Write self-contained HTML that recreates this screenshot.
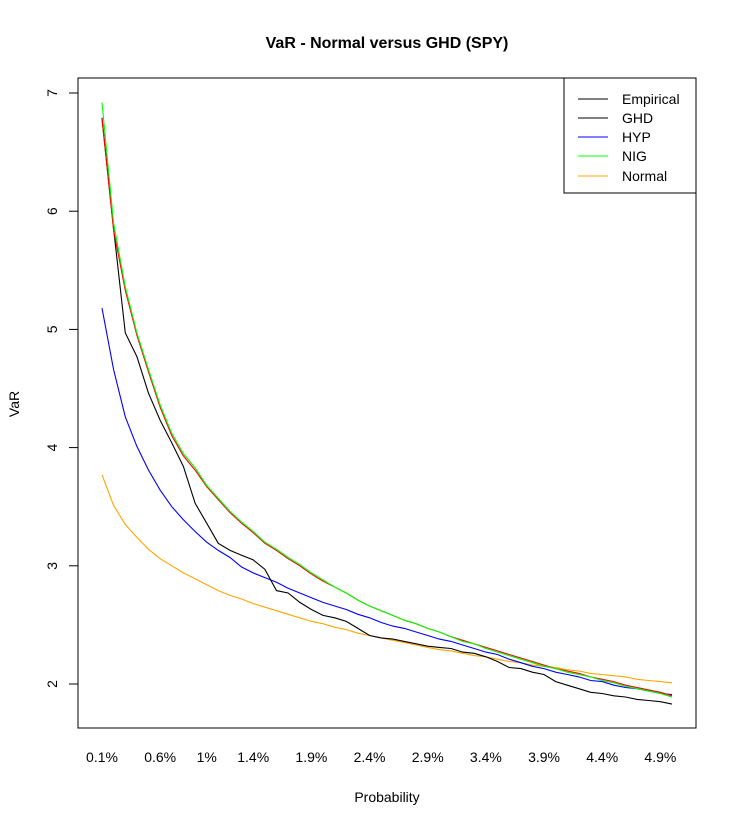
<!DOCTYPE html>
<html><head><meta charset="utf-8"><style>
body{margin:0;background:#fff}
svg text{font-family:"Liberation Sans",Arial,sans-serif;fill:#000}
</style></head><body>
<svg width="736" height="826" viewBox="0 0 736 826" xmlns="http://www.w3.org/2000/svg">
<rect width="736" height="826" fill="#fff"/>
<text x="387" y="48" text-anchor="middle" font-size="16" font-weight="bold">VaR - Normal versus GHD (SPY)</text>
<g id="plot"></g>
<rect x="78" y="78" width="618" height="650" fill="none" stroke="#000"/>
<g id="axes"></g>
<text x="387" y="802" text-anchor="middle" font-size="14">Probability</text>
<text transform="translate(19,404) rotate(-90)" text-anchor="middle" font-size="14">VaR</text>
<g>
<rect x="564" y="78" width="132" height="115" fill="#fff" stroke="#000"/>
<g><line x1="578" y1="99" x2="608" y2="99" stroke="#000"/><text x="622" y="104" font-size="14">Empirical</text></g>
<g><line x1="578" y1="118" x2="608" y2="118" stroke="#000"/><text x="622" y="123" font-size="14">GHD</text></g>
<g><line x1="578" y1="137" x2="608" y2="137" stroke="#0000ff"/><text x="622" y="142" font-size="14">HYP</text></g>
<g><line x1="578" y1="156" x2="608" y2="156" stroke="#00ff00"/><text x="622" y="161" font-size="14">NIG</text></g>
<g><line x1="578" y1="176" x2="608" y2="176" stroke="#ffa500"/><text x="622" y="181" font-size="14">Normal</text></g>
</g>
</svg>
<script>
const xLabels = ["0.1%","0.6%","1%","1.4%","1.9%","2.4%","2.9%","3.4%","3.9%","4.4%","4.9%"];
const xLabelIdx = [0,5,9,13,18,23,28,33,38,43,48];
const yTicks = [2,3,4,5,6,7];
const empirical = [6.79,5.85,4.97,4.77,4.46,4.23,4.04,3.84,3.53,3.36,3.19,3.13,3.09,3.05,2.97,2.79,2.77,2.69,2.63,2.58,2.56,2.53,2.47,2.41,2.39,2.38,2.36,2.34,2.32,2.31,2.30,2.27,2.26,2.23,2.19,2.14,2.13,2.10,2.08,2.02,1.99,1.96,1.93,1.92,1.90,1.89,1.87,1.86,1.85,1.83];
const ghd = [6.78,5.84,5.33,4.95,4.64,4.34,4.10,3.93,3.81,3.67,3.56,3.45,3.36,3.28,3.19,3.13,3.06,3.00,2.93,2.87,2.82,2.77,2.71,2.66,2.62,2.58,2.54,2.51,2.47,2.44,2.40,2.37,2.34,2.31,2.28,2.25,2.22,2.19,2.16,2.13,2.11,2.09,2.06,2.04,2.02,1.99,1.97,1.95,1.93,1.90];
const hyp = [5.18,4.66,4.26,4.01,3.81,3.64,3.50,3.39,3.29,3.20,3.13,3.07,2.99,2.94,2.90,2.86,2.81,2.77,2.73,2.69,2.66,2.63,2.59,2.56,2.52,2.49,2.47,2.44,2.41,2.38,2.36,2.33,2.30,2.27,2.25,2.21,2.18,2.15,2.13,2.10,2.08,2.06,2.03,2.02,1.99,1.97,1.96,1.94,1.92,1.91];
const nig = [6.92,5.90,5.36,4.97,4.66,4.36,4.12,3.95,3.83,3.68,3.57,3.46,3.37,3.29,3.20,3.14,3.07,3.01,2.94,2.88,2.82,2.77,2.71,2.66,2.62,2.58,2.54,2.51,2.47,2.44,2.40,2.36,2.34,2.30,2.27,2.24,2.21,2.18,2.15,2.13,2.10,2.08,2.06,2.03,2.01,1.98,1.96,1.94,1.92,1.89];
const normal = [3.77,3.51,3.35,3.24,3.14,3.06,3.00,2.94,2.89,2.84,2.79,2.75,2.72,2.68,2.65,2.62,2.59,2.56,2.53,2.51,2.48,2.46,2.43,2.41,2.39,2.37,2.35,2.33,2.31,2.29,2.28,2.26,2.24,2.23,2.21,2.19,2.18,2.16,2.15,2.14,2.12,2.11,2.09,2.08,2.07,2.06,2.04,2.03,2.02,2.01];

const NS="http://www.w3.org/2000/svg";
const n = normal.length;
function xs(i){ return 102 + i*(672-102)/(n-1); }
function ys(v){ return 684 - (v-2)*(684-93)/5; }
const plot=document.getElementById('plot'), axes=document.getElementById('axes');
function mk(t,a,p){const e=document.createElementNS(NS,t);for(const k in a)e.setAttribute(k,a[k]);p.appendChild(e);return e;}
const series=[["normal",normal,"#ffa500"],["hyp",hyp,"#0000ff"],["empirical",empirical,"#000000"],["ghd",ghd,"#ff0000"],["nig",nig,"#00ff00"]];
series.forEach(s=>{
  const pts=s[1].map((v,i)=>xs(i).toFixed(1)+","+ys(v).toFixed(1)).join(" ");
  const pl=mk('polyline',{points:pts,fill:"none",stroke:s[2],"stroke-width":1.1},plot);
  
  
});
yTicks.forEach(t=>{
  const y=ys(t);
  const l=mk('line',{x1:69,x2:78,y1:y,y2:y,stroke:"#000"},axes);
  
  
  const tx=mk('text',{transform:`translate(57,${y}) rotate(-90)`,"text-anchor":"middle","font-size":14},axes);
  tx.textContent=t;
  
  
});
xLabels.forEach((lab,k)=>{
  const tx=mk('text',{x:xs(xLabelIdx[k]),y:762,"text-anchor":"middle","font-size":14},axes);
  tx.textContent=lab;
  
  
});
</script>
</body></html>
